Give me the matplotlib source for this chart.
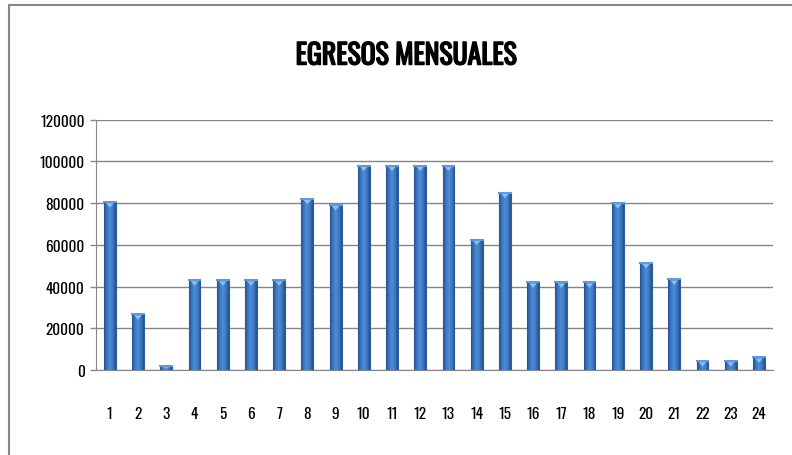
import numpy as np
import matplotlib.pyplot as plt
import matplotlib.patheffects as pe
from matplotlib.lines import Line2D
from matplotlib.colors import LinearSegmentedColormap

months = [str(i) for i in range(1, 25)]
egresos = [80500, 26700, 1800, 43000, 43000, 43000, 43000, 82000, 79200,
           98000, 98000, 98000, 98000, 62500, 85000, 42000, 42000, 42000,
           80000, 51400, 43400, 4300, 4300, 6000]
yticks = [0, 20000, 40000, 60000, 80000, 100000, 120000]

plt.rcParams['font.family'] = ['Oswald', 'Fira Sans Extra Condensed', 'DejaVu Sans']

W, H = 792, 456
fig = plt.figure(figsize=(W / 100, H / 100), dpi=100)
ax = fig.add_axes([95.7 / W, 1 - 371 / H, (773 - 95.7) / W, (371 - 120.7) / H])

x = np.arange(len(months))
bars = ax.bar(x, egresos, width=0.42, color='#3d7cc9', edgecolor='#2c5d9e',
              linewidth=0.8, zorder=3)

# horizontal shading across each bar (darker edges, lighter middle)
grad = np.linspace(0, 1, 64)
shade = 1 - 0.55 * (2 * np.abs(grad - 0.5)) ** 1.5
cmap = LinearSegmentedColormap.from_list('b', ['#24518c', '#4a8ad8'])
for b in bars:
    bx, bw, bh = b.get_x(), b.get_width(), b.get_height()
    im = ax.imshow(shade[None, :], cmap=cmap, aspect='auto', vmin=0.45, vmax=1,
                   extent=[bx, bx + bw, 0, bh], zorder=3.5)
    im.set_clip_path(b)
    # light cap at top
    cap = min(2600, bh * 0.6)
    ax.fill([bx + bw * 0.18, bx + bw * 0.82, bx + bw * 0.5],
            [bh - 500, bh - 500, bh - cap], color='#8cc0f2', zorder=4, lw=0)
    ax.plot([bx, bx + bw], [bh, bh], color='#5a9be6', lw=1.5, zorder=4)

ax.set_xlim(-0.5, len(months) - 0.5)
ax.set_ylim(0, 120000)
ax.set_yticks(yticks)
ax.set_yticklabels([str(v) for v in yticks], fontsize=11)
ax.set_xticks(x)
ax.set_xticklabels(months, fontsize=11)
ax.tick_params(axis='x', length=0, pad=26)
ax.tick_params(axis='y', length=4, width=1, color='#868686', pad=4)
ax.yaxis.grid(True, color='#868686', linewidth=1, zorder=0)
ax.set_axisbelow(True)
for s in ['top', 'right']:
    ax.spines[s].set_visible(False)
ax.spines['left'].set_color('#868686')
ax.spines['bottom'].set_color('#868686')

fig.text(406 / W, 1 - 57 / H, 'EGRESOS MENSUALES', ha='center', va='center',
         fontsize=20, path_effects=[pe.withStroke(linewidth=1.1, foreground='black')])

# chart area border (top and left)
fig.add_artist(Line2D([8.5 / W, 1], [1 - 6 / H, 1 - 6 / H], transform=fig.transFigure,
                      color='#868686', lw=1.5))
fig.add_artist(Line2D([8.5 / W, 8.5 / W], [0, 1 - 6 / H], transform=fig.transFigure,
                      color='#868686', lw=1.5))

fig.savefig('out.png', dpi=100)
